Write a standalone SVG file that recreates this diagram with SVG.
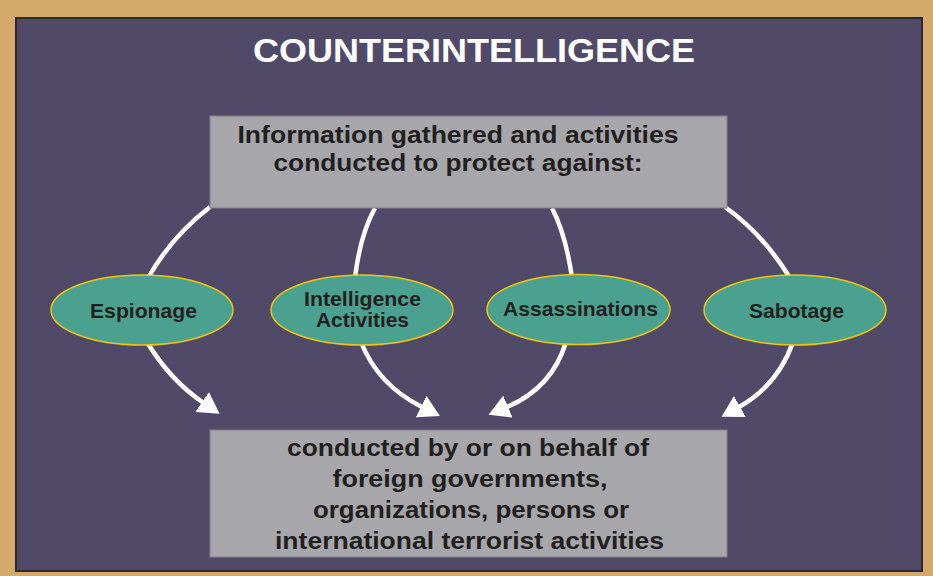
<svg xmlns="http://www.w3.org/2000/svg" width="933" height="576" viewBox="0 0 933 576">
<style>
.box{fill:#A7A7AB;stroke:#808084;stroke-width:1}
.ell{fill:#4BA190;stroke:#F2C40D;stroke-width:1.5}
.t{font-family:"Liberation Sans",Arial,sans-serif;font-weight:bold;fill:#231F20;text-anchor:middle}
.c{fill:none;stroke:#FFFFFF;stroke-width:4.5}
</style>
<defs>
<marker id="ah" markerUnits="userSpaceOnUse" viewBox="0 -12 21 24" markerWidth="21" markerHeight="24" refX="1" refY="0" orient="auto">
<path d="M0,-12 L21,0 L0,12 z" fill="#FFFFFF"/>
</marker>
</defs>
<rect x="0" y="0" width="933" height="576" fill="#D4AA6A"/>
<rect x="16" y="18" width="906" height="553" fill="#504A68" stroke="#2B2830" stroke-width="2"/>
<text id="title" x="474" y="62" font-family="Liberation Sans,Arial,sans-serif" font-weight="bold" font-size="34" fill="#FFFFFF" text-anchor="middle" textLength="442" lengthAdjust="spacingAndGlyphs">COUNTERINTELLIGENCE</text>
<g id="connectors">
<path class="c" d="M210,207 Q172,236 148,278"/>
<path class="c" d="M375,208 Q360,235 355,278"/>
<path class="c" d="M552,208 Q566,235 572,278"/>
<path class="c" d="M725,207 Q763,234 790,278"/>
<path class="c" d="M147,342 Q170,380 203,402.5" marker-end="url(#ah)"/>
<path class="c" d="M361,342 Q378,385 422,407" marker-end="url(#ah)"/>
<path class="c" d="M566,342 Q552,388 507,407" marker-end="url(#ah)"/>
<path class="c" d="M793,342 Q778,385 739,407" marker-end="url(#ah)"/>
</g>
<g id="top-box">
<rect class="box" x="210" y="116" width="517" height="92"/>
<text class="t" font-size="23" x="458" y="143" textLength="441" lengthAdjust="spacingAndGlyphs">Information gathered and activities</text>
<text class="t" font-size="23" x="458" y="171" textLength="369" lengthAdjust="spacingAndGlyphs">conducted to protect against:</text>
</g>
<g id="espionage">
<ellipse class="ell" cx="142" cy="310" rx="91" ry="35"/>
<text class="t" font-size="21" x="143.5" y="318" textLength="107" lengthAdjust="spacingAndGlyphs">Espionage</text>
</g>
<g id="intelligence-activities">
<ellipse class="ell" cx="362" cy="310" rx="91" ry="35"/>
<text class="t" font-size="21" x="362.5" y="305.5" textLength="117" lengthAdjust="spacingAndGlyphs">Intelligence</text>
<text class="t" font-size="21" x="362.5" y="326.5" textLength="93" lengthAdjust="spacingAndGlyphs">Activities</text>
</g>
<g id="assassinations">
<ellipse class="ell" cx="578.5" cy="309.5" rx="91.5" ry="35"/>
<text class="t" font-size="21" x="580.5" y="315.5" textLength="155" lengthAdjust="spacingAndGlyphs">Assassinations</text>
</g>
<g id="sabotage">
<ellipse class="ell" cx="795" cy="310" rx="91" ry="35"/>
<text class="t" font-size="21" x="796.5" y="317.5" textLength="95" lengthAdjust="spacingAndGlyphs">Sabotage</text>
</g>
<g id="bottom-box">
<rect class="box" x="210" y="430" width="517" height="127"/>
<text class="t" font-size="23" x="468" y="456" textLength="362" lengthAdjust="spacingAndGlyphs">conducted by or on behalf of</text>
<text class="t" font-size="23" x="470" y="487" textLength="275" lengthAdjust="spacingAndGlyphs">foreign governments,</text>
<text class="t" font-size="23" x="471" y="518" textLength="316" lengthAdjust="spacingAndGlyphs">organizations, persons or</text>
<text class="t" font-size="23" x="469.5" y="549" textLength="389" lengthAdjust="spacingAndGlyphs">international terrorist activities</text>
</g>
</svg>
